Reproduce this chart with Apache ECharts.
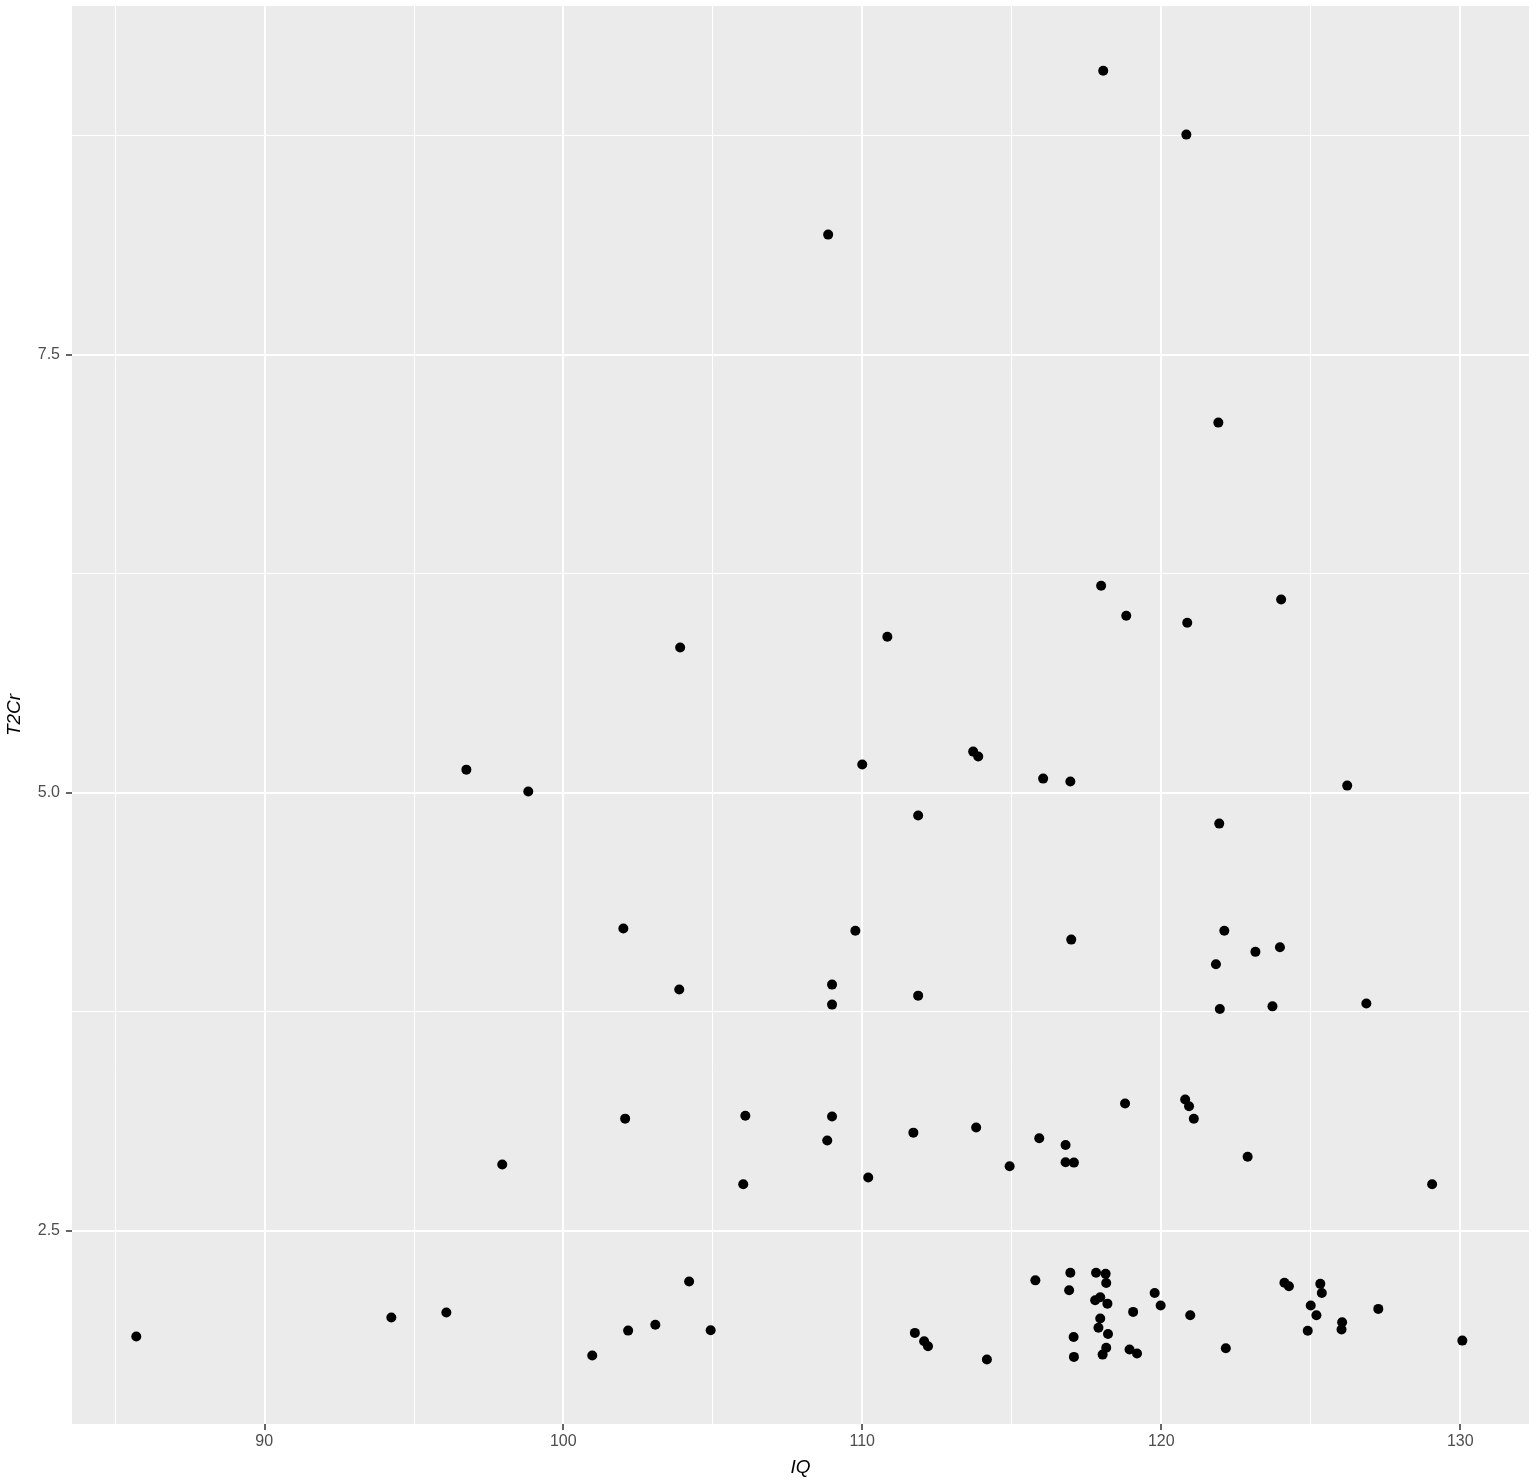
<!DOCTYPE html>
<html>
<head>
<meta charset="utf-8">
<script src="https://cdn.jsdelivr.net/npm/echarts@6/dist/echarts.min.js"></script>
<style>
html,body{margin:0;padding:0;background:#fff;}
#chart{width:1536px;height:1484px;}
</style>
</head>
<body>
<div id="chart"></div>
<script>
const iq = [
118.06,120.84,108.86,121.91,117.99,124.01,118.83,120.87,110.84,103.91,
113.71,113.88,96.76,110.0,116.05,116.96,98.83,126.22,111.87,121.94,
102.01,109.77,122.11,116.99,123.97,123.15,121.83,108.99,103.88,111.87,
108.99,123.72,126.86,121.96,118.79,120.80,120.93,121.09,102.07,106.09,
108.99,111.71,113.81,115.92,108.83,116.80,97.96,116.80,117.08,114.93,
122.89,110.20,106.02,129.06,85.72,94.25,96.09,100.97,102.17,103.08,
104.21,104.93,111.76,112.07,112.20,114.17,115.79,116.96,116.92,117.82,
118.14,118.16,117.96,117.79,118.20,119.06,119.78,119.98,120.97,117.96,
117.90,118.22,117.07,118.16,118.04,117.08,118.94,119.19,122.16,124.12,
124.27,125.32,125.37,125.00,125.19,124.90,126.05,126.03,127.26,130.07
];
const t2cr = [
9.12,8.756,8.185,7.112,6.181,6.102,6.010,5.970,5.890,5.828,
5.234,5.206,5.131,5.160,5.080,5.063,5.006,5.040,4.869,4.823,
4.224,4.212,4.212,4.161,4.117,4.091,4.020,3.904,3.876,3.841,
3.790,3.780,3.796,3.765,3.225,3.248,3.210,3.138,3.139,3.156,
3.151,3.059,3.088,3.027,3.014,2.989,2.877,2.890,2.888,2.867,
2.921,2.803,2.764,2.764,1.895,2.004,2.032,1.787,1.929,1.963,
2.209,1.931,1.916,1.868,1.840,1.764,2.216,2.259,2.159,2.259,
2.253,2.201,2.119,2.102,2.083,2.036,2.144,2.072,2.017,1.998,
1.945,1.910,1.893,1.831,1.792,1.779,1.821,1.798,1.828,2.202,
2.182,2.196,2.144,2.072,2.017,1.928,1.977,1.935,2.053,1.872
];
const xMajor = [90, 100, 110, 120, 130];
const xMinor = [85, 95, 105, 115, 125];
const yMajor = [2.5, 5.0, 7.5];
const yMinor = [3.75, 6.25, 8.75];

const points = iq.map((v, i) => [v, t2cr[i]]);
const gridLines = []
  .concat(xMinor.map(v => ({xAxis: v, lineStyle: {width: 1}})))
  .concat(yMinor.map(v => ({yAxis: v, lineStyle: {width: 1}})))
  .concat(xMajor.map(v => ({xAxis: v, lineStyle: {width: 2}})))
  .concat(yMajor.map(v => ({yAxis: v, lineStyle: {width: 2}})));

const chart = echarts.init(document.getElementById('chart'));
chart.setOption({
  animation: false,
  grid: {left: 72, top: 6, right: 7, bottom: 60, show: true, backgroundColor: '#EBEBEB', borderWidth: 0,
    containLabel: false, outerBoundsMode: 'none'},
  xAxis: {
    type: 'value', min: 83.57, max: 132.3,
    name: 'IQ', nameLocation: 'middle', nameGap: 34,
    nameTextStyle: {fontFamily: 'Liberation Sans, Arial, sans-serif', fontStyle: 'italic', fontSize: 19, color: '#000'},
    axisLine: {show: false},
    axisTick: {show: true, length: 6, lineStyle: {color: '#333', width: 1.5}, customValues: xMajor},
    axisLabel: {customValues: xMajor, margin: 10, fontSize: 16, color: '#4D4D4D', fontFamily: 'Liberation Sans, Arial, sans-serif'},
    splitLine: {show: false}
  },
  yAxis: {
    type: 'value', min: 1.396, max: 9.49,
    name: 'T2Cr', nameLocation: 'middle', nameGap: 48, nameRotate: 90,
    nameTextStyle: {fontFamily: 'Liberation Sans, Arial, sans-serif', fontStyle: 'italic', fontSize: 19, color: '#000'},
    axisLine: {show: false},
    axisTick: {show: true, length: 6, lineStyle: {color: '#333', width: 1.5}, customValues: yMajor},
    axisLabel: {customValues: yMajor, margin: 12, fontSize: 16, color: '#4D4D4D', fontFamily: 'Liberation Sans, Arial, sans-serif',
      formatter: v => Number(v).toFixed(1)},
    splitLine: {show: false}
  },
  series: [
    {
      type: 'scatter', data: [], z: 1, silent: true,
      markLine: {
        silent: true, symbol: ['none', 'none'], label: {show: false},
        lineStyle: {color: '#FFFFFF', type: 'solid'},
        emphasis: {disabled: true},
        data: gridLines
      }
    },
    {
      type: 'scatter', data: points, z: 5, symbolSize: 10,
      itemStyle: {color: '#000000', opacity: 1}
    }
  ]
});
</script>
</body>
</html>
